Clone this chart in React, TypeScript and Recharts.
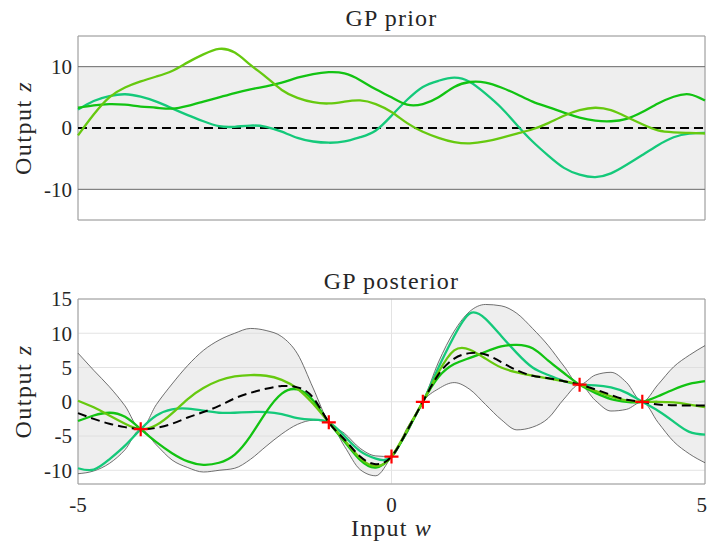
import {
  Area,
  CartesianGrid,
  ComposedChart,
  Line,
  ReferenceArea,
  ReferenceLine,
  Scatter,
  XAxis,
  YAxis,
} from "recharts";

// input grid shared by every curve
const inputW = [
  -5, -4.75, -4.5, -4.25, -4, -3.75, -3.5, -3.25, -3, -2.75, -2.5, -2.25, -2, -1.75, -1.5, -1.25, -1,
  -0.75, -0.5, -0.25, 0, 0.25, 0.5, 0.75, 1, 1.25, 1.5, 1.75, 2, 2.25, 2.5, 2.75, 3, 3.25, 3.5, 3.75,
  4, 4.25, 4.5, 4.75, 5,
];

// GP prior: mean 0, band +-10, three samples
const PRIOR_MEAN = 0;
const PRIOR_UPPER = 10;
const PRIOR_LOWER = -10;
const priorLime = [
  -1.2, 2.2, 5.0, 6.6, 7.6, 8.4, 9.3, 10.7, 12.0, 12.9, 12.3, 10.3, 8.3, 6.2, 4.9, 4.2, 4.0, 4.3, 4.5,
  3.9, 2.6, 0.8, -0.6, -1.6, -2.3, -2.5, -2.2, -1.6, -0.9, -0.2, 0.8, 2.0, 2.9, 3.3, 2.9, 1.8, 0.6,
  -0.4, -0.7, -0.8, -0.9,
];
const priorGreen = [
  3.3, 3.7, 3.9, 3.8, 3.5, 3.3, 3.15, 3.6, 4.3, 5.0, 5.7, 6.3, 6.8, 7.4, 8.2, 8.8, 9.1, 8.9, 7.8, 6.3,
  5.0, 3.8, 3.9, 5.0, 6.7, 7.5, 7.4, 6.6, 5.5, 4.3, 3.4, 2.5, 1.7, 1.2, 1.1, 1.5, 2.6, 4.0, 5.1, 5.5,
  4.5,
];
const priorTeal = [
  3.0, 4.4, 5.2, 5.5, 5.1, 4.3, 3.2, 2.1, 1.1, 0.3, 0.2, 0.4, 0.2, -0.6, -1.6, -2.2, -2.4, -2.2, -1.5,
  -0.4, 2.0, 4.6, 6.7, 7.7, 8.2, 7.5, 5.6, 3.3, 0.5, -2.2, -4.5, -6.5, -7.6, -8.0, -7.4, -6.0, -4.4,
  -2.8, -1.5, -0.9, -0.8,
];

// GP posterior
const postMean = [
  -1.65, -2.5, -3.2, -3.7, -4.0, -3.8, -3.2, -2.3, -1.5, -0.6, 0.5, 1.3, 1.9, 2.3, 2.1, 0.6, -3.0,
  -5.5, -8.0, -9.1, -8.0, -4.2, 0, 4.0, 6.3, 7.1, 6.9, 5.8, 4.6, 3.8, 3.45, 3.0, 2.5, 1.8, 1.0, 0.3,
  0, -0.4, -0.5, -0.55, -0.55,
];
const postUpper = [
  7.1, 4.6, 2.2, -0.6, -4.0, -0.4, 2.6, 5.3, 7.5, 9.0, 10.0, 10.7, 10.4, 9.5, 7.0, 2.0, -3.0, -4.6,
  -6.8, -7.9, -8.0, -3.8, 0, 5.8, 10.3, 13.2, 14.2, 14.0, 12.9, 10.7, 8.2, 5.2, 2.5, 3.9, 4.3, 2.8, 0,
  2.5, 5.1, 6.8, 8.2,
];
const postLower = [
  -10.5, -10.1, -9.0, -7.0, -4.0, -6.3, -8.5, -9.6, -10.25, -10.0, -9.7, -8.4, -6.5, -4.7, -3.3, -2.7,
  -3.0, -6.5, -9.9, -10.8, -8.0, -4.6, 0, 1.9, 2.8, 1.8, -0.4, -2.6, -4.1, -3.7, -2.4, 0.4, 2.5, 0.2,
  -1.35, -1.1, 0, -3.0, -5.8, -7.6, -8.9,
];
const postTeal = [
  -9.7, -9.9, -8.4, -6.4, -4.0, -2.0, -1.1, -1.0, -1.3, -1.6, -1.6, -1.5, -1.5, -1.8, -2.4, -2.6,
  -3.0, -5.0, -7.2, -8.3, -8.0, -4.2, 0, 5.0, 9.6, 12.9, 12.1, 9.6, 7.1, 5.0, 3.9, 3.0, 2.5, 2.4, 2.1,
  1.3, 0, -1.3, -2.9, -4.4, -4.8,
];
const postGreen = [
  -2.8, -2.0, -1.6, -2.2, -4.0, -5.9, -7.5, -8.7, -9.2, -8.9, -7.7, -5.0, -1.5, 1.2, 1.8, 0.2, -3.0,
  -5.8, -8.5, -9.6, -8.0, -4.3, 0, 3.6, 5.5, 6.4, 7.3, 8.1, 8.3, 7.8, 6.0, 4.2, 2.5, 1.3, 0.4, 0.0, 0,
  0.8, 1.8, 2.6, 3.0,
];
const postLime = [
  0.15, -0.8, -2.0, -3.2, -4.0, -3.4, -1.7, 0.4, 2.0, 3.1, 3.7, 3.9, 3.8, 3.2, 1.9, -0.3, -3.0, -5.6,
  -8.2, -9.4, -8.0, -4.1, 0, 4.3, 7.5, 7.6, 6.3, 5.0, 4.3, 3.8, 3.4, 3.0, 2.5, 1.6, 0.8, 0.2, 0, 0,
  -0.1, -0.4, -0.8,
];

// observations
const obsW = [-4, -1, 0, 0.5, 3, 4];
const obsZ = [-4, -3, -8, 0, 2.5, 0];

const xTicks = [-5, 0, 5];
const priorYTicks = [-10, 0, 10];
const postYTicks = [-10, -5, 0, 5, 10, 15];

const LIME = "#66c90f";
const GREEN = "#12c312";
const TEAL = "#14c97a";
const FONT = "'Liberation Serif', 'DejaVu Serif', serif";
const TEXT = "#262626";

const priorRows = inputW.map((w, i) => ({
  w,
  lime: priorLime[i],
  green: priorGreen[i],
  teal: priorTeal[i],
}));

const postRows = inputW.map((w, i) => ({
  w,
  band: [postLower[i], postUpper[i]],
  upper: postUpper[i],
  lower: postLower[i],
  mean: postMean[i],
  teal: postTeal[i],
  green: postGreen[i],
  lime: postLime[i],
}));

const obsRows = obsW.map((w, i) => ({ w, z: obsZ[i] }));

const tickStyle = { fontFamily: FONT, fontSize: 21, fill: TEXT };

function yLabel(props: any) {
  const vb = props.viewBox || {};
  const cy = vb.y + vb.height / 2;
  const x = 23;
  return (
    <text
      x={x}
      y={cy}
      transform={`rotate(-90 ${x} ${cy})`}
      textAnchor="middle"
      dominantBaseline="central"
      fontFamily={FONT}
      fontSize={24}
      letterSpacing={1.5}
      fill={TEXT}
    >
      Output <tspan fontStyle="italic">z</tspan>
    </text>
  );
}

function plusMarker(props: any) {
  const { cx, cy } = props;
  return (
    <path
      d={`M${cx - 7},${cy}h14M${cx},${cy - 7}v14`}
      stroke="#ff0000"
      strokeWidth={2.2}
      fill="none"
    />
  );
}

const titleStyle: React.CSSProperties = {
  position: "absolute",
  left: 78,
  width: 627,
  textAlign: "center",
  fontFamily: FONT,
  fontSize: 24,
  lineHeight: "24px",
  letterSpacing: "1.2px",
  color: TEXT,
  whiteSpace: "nowrap",
};

export default function App() {
  return (
    <div style={{ position: "absolute", left: 0, top: 0, width: 707, height: 544, background: "#fff" }}>
      <div style={{ ...titleStyle, top: 6 }}>GP prior</div>
      <div style={{ position: "absolute", left: 0, top: 0 }}>
        <ComposedChart width={707} height={240} data={priorRows} margin={{ top: 36, right: 2, bottom: 20, left: 0 }}>
          <CartesianGrid stroke="#e3e3e3" />
          <ReferenceArea x1={-5} x2={5} y1={PRIOR_LOWER} y2={PRIOR_UPPER} fill="#d9d9d9" fillOpacity={0.45} stroke="none" />
          <ReferenceLine y={PRIOR_UPPER} stroke="#6e6e6e" strokeWidth={1} />
          <ReferenceLine y={PRIOR_LOWER} stroke="#6e6e6e" strokeWidth={1} />
          <XAxis
            dataKey="w"
            type="number"
            domain={[-5, 5]}
            ticks={xTicks}
            tick={false}
            tickLine={false}
            axisLine={false}
            height={0}
          />
          <YAxis
            type="number"
            domain={[-15, 15]}
            ticks={priorYTicks}
            width={78}
            tick={tickStyle}
            tickSize={0}
            tickMargin={6}
            axisLine={false}
            label={yLabel}
          />
          <ReferenceLine y={PRIOR_MEAN} stroke="#000" strokeWidth={2} strokeDasharray="9 5" />
          <Line type="natural" dataKey="teal" stroke={TEAL} strokeWidth={2.3} dot={false} isAnimationActive={false} />
          <Line type="natural" dataKey="green" stroke={GREEN} strokeWidth={2.3} dot={false} isAnimationActive={false} />
          <Line type="natural" dataKey="lime" stroke={LIME} strokeWidth={2.3} dot={false} isAnimationActive={false} />
          <ReferenceArea x1={-5} x2={5} y1={-15} y2={15} fill="none" stroke="#9a9a9a" strokeWidth={1} />
        </ComposedChart>
      </div>

      <div style={{ ...titleStyle, top: 269 }}>GP posterior</div>
      <div style={{ position: "absolute", left: 0, top: 244 }}>
        <ComposedChart width={707} height={300} data={postRows} margin={{ top: 55, right: 2, bottom: 35, left: 0 }}>
          <CartesianGrid stroke="#e3e3e3" />
          <XAxis
            dataKey="w"
            type="number"
            domain={[-5, 5]}
            ticks={xTicks}
            tick={tickStyle}
            tickSize={0}
            tickMargin={13}
            axisLine={false}
            height={25}
          />
          <YAxis
            type="number"
            domain={[-12, 15]}
            ticks={postYTicks}
            width={78}
            tick={tickStyle}
            tickSize={0}
            tickMargin={6}
            axisLine={false}
            label={yLabel}
          />
          <Area
            type="monotone"
            dataKey="band"
            fill="#d9d9d9"
            fillOpacity={0.45}
            stroke="none"
            isAnimationActive={false}
          />
          <Line type="monotone" dataKey="upper" stroke="#4d4d4d" strokeWidth={0.8} dot={false} isAnimationActive={false} />
          <Line type="monotone" dataKey="lower" stroke="#4d4d4d" strokeWidth={0.8} dot={false} isAnimationActive={false} />
          <Line type="natural" dataKey="teal" stroke={TEAL} strokeWidth={2.3} dot={false} isAnimationActive={false} />
          <Line type="natural" dataKey="green" stroke={GREEN} strokeWidth={2.3} dot={false} isAnimationActive={false} />
          <Line type="natural" dataKey="lime" stroke={LIME} strokeWidth={2.3} dot={false} isAnimationActive={false} />
          <Line
            type="natural"
            dataKey="mean"
            stroke="#000"
            strokeWidth={2}
            strokeDasharray="9 5"
            dot={false}
            isAnimationActive={false}
          />
          <Scatter data={obsRows} dataKey="z" shape={plusMarker} isAnimationActive={false} />
          <ReferenceArea x1={-5} x2={5} y1={-12} y2={15} fill="none" stroke="#9a9a9a" strokeWidth={1} />
        </ComposedChart>
      </div>
      <div style={{ ...titleStyle, top: 516 }}>
        Input <i>w</i>
      </div>
    </div>
  );
}
